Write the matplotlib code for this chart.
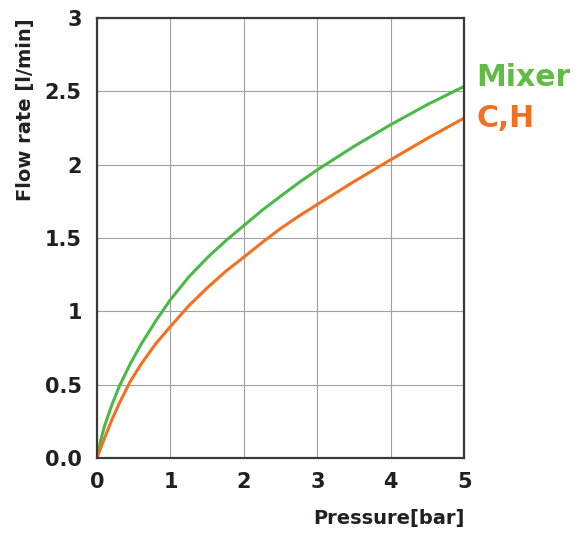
import matplotlib
matplotlib.use("Agg")
from matplotlib import pyplot as plt

# valeurs
pressure = [0, 0.05, 0.1, 0.2, 0.3, 0.45, 0.6, 0.8, 1, 1.25, 1.5, 1.75, 2, 2.25, 2.5, 2.75, 3, 3.5, 4, 4.5, 5]
flow_mixer = [0, 0.12, 0.215, 0.36, 0.485, 0.64, 0.775, 0.935, 1.08, 1.235, 1.365, 1.48, 1.585, 1.69, 1.785, 1.878, 1.965, 2.125, 2.273, 2.41, 2.534]
flow_ch = [0, 0.068, 0.133, 0.258, 0.37, 0.52, 0.64, 0.78, 0.897, 1.038, 1.16, 1.272, 1.37, 1.47, 1.565, 1.65, 1.729, 1.885, 2.034, 2.18, 2.318]

x_ticks = [0, 1, 2, 3, 4, 5]
y_ticks = [0, 0.5, 1, 1.5, 2, 2.5, 3]
y_tick_labels = ["0.0", "0.5", "1", "1.5", "2", "2.5", "3"]

GREEN = "#4cb848"
ORANGE = "#f37021"
TEXT = "#231f20"

fig = plt.figure(figsize=(5.81, 5.34), dpi=100)
ax = fig.add_axes([0.167, 0.1423, 0.632, 0.824])

ax.plot(pressure, flow_mixer, color=GREEN, lw=2.2, solid_capstyle="butt", solid_joinstyle="round")
ax.plot(pressure, flow_ch, color=ORANGE, lw=2.2, solid_capstyle="butt", solid_joinstyle="round")

ax.set_xlim(0, 5)
ax.set_ylim(0, 3)
ax.set_xticks(x_ticks)
ax.set_yticks(y_ticks)
ax.set_yticklabels(y_tick_labels)
ax.grid(True, color="#a0a0a0", lw=0.8)
ax.set_axisbelow(True)
for s in ax.spines.values():
    s.set_color("#3a3a3a")
    s.set_linewidth(1.6)

ax.tick_params(length=0, labelsize=15, labelcolor=TEXT)
ax.tick_params(axis="x", pad=10)
ax.tick_params(axis="y", pad=11)
for lab in ax.get_xticklabels() + ax.get_yticklabels():
    lab.set_fontweight("bold")

ax.set_xlabel("Pressure[bar]", fontsize=14, fontweight="bold", color=TEXT, loc="right", labelpad=12)
ax.set_ylabel("Flow rate [l/min]", fontsize=14, fontweight="bold", color=TEXT, loc="top", labelpad=7)

fig.text(476 / 581, 1 - 86 / 534, "Mixer", color="#62bb46", fontsize=21.5, fontweight="bold", ha="left", va="baseline")
fig.text(476 / 581, 1 - 127 / 534, "C,H", color=ORANGE, fontsize=21.5, fontweight="bold", ha="left", va="baseline")

fig.savefig("out.png", dpi=100)
